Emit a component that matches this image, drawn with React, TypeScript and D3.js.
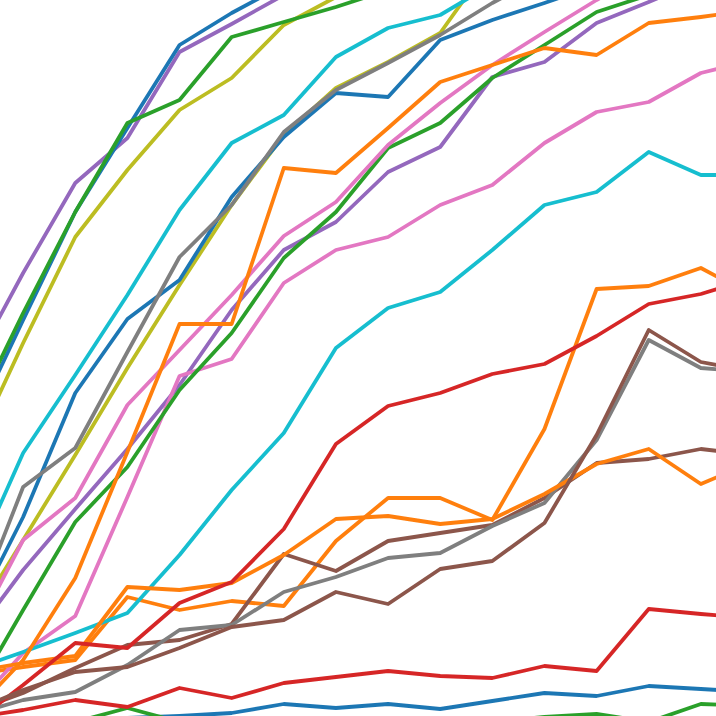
import { useEffect, useRef } from 'react'
import * as d3 from 'd3'

// x positions: sample index (the view is a zoomed crop, lines run off every edge)
const steps = d3.range(0, 16)

// tab10 cycle, first pass
const blueLow = [-14, -9, -6, -2, 0, 3, 12, 8, 12, 7, 15, 23, 20, 30, 27, 24]
const orangeL1 = [41, 49, 56, 119, 106, 115, 110, 175, 218, 218, 196, 287, 427, 430, 448, 420]
const greenLow = [-24, -14, -6, 8, -6, -16, -19, -19, -14, -9, -6, -1, 2, -6, 12, 10]
const redLow = [-2, 6, 16, 9, 28, 18, 33, 39, 45, 40, 38, 50, 45, 107, 102, 98]
const purpleMid = [76, 146, 207, 267, 331, 406, 466, 494, 544, 569, 639, 654, 693, 714, 736, 756]
const brown1 = [4, 23, 48, 71, 76, 92, 162, 145, 175, 183, 191, 218, 253, 257, 267, 261]
const pinkB = [6, 63, 100, 219, 340, 357, 433, 466, 479, 511, 531, 573, 604, 614, 643, 656]
const grayLow = [1, 16, 24, 51, 86, 91, 124, 139, 158, 163, 190, 213, 276, 376, 348, 344]
const oliveMid = [91, 176, 261, 348, 431, 511, 581, 628, 654, 683, 756, 786, 806, 821, 836, 851]
const cyanLow = [46, 64, 83, 103, 161, 226, 283, 368, 408, 424, 466, 511, 524, 564, 541, 541]
// second pass
const blueMid = [96, 199, 323, 397, 436, 519, 579, 623, 619, 676, 696, 713, 731, 746, 761, 776]
const orangeL2 = [44, 53, 60, 129, 126, 133, 161, 197, 200, 192, 197, 222, 252, 267, 232, 254]
const greenMid = [16, 106, 194, 249, 326, 383, 458, 504, 568, 593, 638, 671, 704, 721, 741, 761]
const redUp = [-9, 31, 73, 68, 113, 134, 187, 272, 310, 323, 342, 352, 380, 412, 422, 438]
const purpleTop = [346, 443, 533, 578, 664, 692, 721, 746, 766, 786, 801, 816, 826, 836, 846, 856]
const brown2 = [4, 26, 44, 49, 68, 89, 96, 124, 112, 147, 155, 193, 281, 386, 354, 344]
const pinkA = [76, 176, 218, 311, 366, 421, 480, 514, 571, 613, 651, 684, 716, 746, 766, 786]
const grayUp = [96, 229, 268, 364, 459, 511, 584, 626, 653, 681, 713, 741, 761, 776, 791, 806]
const oliveTop = [261, 373, 479, 546, 606, 638, 691, 719, 746, 771, 791, 806, 821, 831, 841, 851]
const cyanUp = [146, 263, 341, 421, 506, 573, 601, 659, 688, 701, 732, 761, 781, 796, 811, 826]
// third pass
const blueTop = [286, 396, 504, 588, 671, 703, 731, 756, 776, 796, 811, 826, 836, 846, 856, 866]
const orangeUp = [1, 56, 138, 264, 392, 392, 548, 543, 588, 634, 651, 668, 661, 693, 699, 706]
const greenTop = [296, 403, 504, 593, 616, 679, 694, 709, 726, 741, 756, 771, 781, 791, 801, 811]

const series = [
  blueLow, orangeL1, greenLow, redLow, purpleMid, brown1, pinkB, grayLow, oliveMid, cyanLow,
  blueMid, orangeL2, greenMid, redUp, purpleTop, brown2, pinkA, grayUp, oliveTop, cyanUp,
  blueTop, orangeUp, greenTop,
]

export default function App() {
  const ref = useRef<SVGSVGElement>(null)

  useEffect(() => {
    const svg = d3.select(ref.current!)
    svg.selectAll('*').remove()
    const W = 716, H = 716

    // visible window is a crop: index 0 sits just off the left edge
    const x = d3.scaleLinear().domain([0, 15]).range([-29, 753])
    const y = d3.scaleLinear().domain([0, 716]).range([H, 0])
    const color = d3.scaleOrdinal<number, string>().domain(d3.range(10)).range(d3.schemeCategory10)

    const defs = svg.append('defs')
    defs.append('clipPath').attr('id', 'crop')
      .append('rect').attr('width', W).attr('height', H)
    // the reference is an upscaled raster, edges are a bit soft
    defs.append('filter').attr('id', 'soft')
      .append('feGaussianBlur').attr('stdDeviation', 0.5)

    const g = svg.append('g').attr('clip-path', 'url(#crop)')
    g.append('rect').attr('width', W).attr('height', H).attr('fill', '#fff')

    const line = d3.line<number>().x((_, i) => x(steps[i])).y(v => y(v))

    const lines = g.append('g').attr('filter', 'url(#soft)')
    series.forEach((s, i) => {
      lines.append('path').datum(s)
        .attr('fill', 'none')
        .attr('stroke', color(i % 10))
        .attr('stroke-width', 3.8)
        .attr('stroke-linejoin', 'round')
        .attr('stroke-linecap', 'round')
        .attr('d', line)
    })
  }, [])

  return (
    <svg ref={ref} width={716} height={716}
      style={{ position: 'fixed', left: 0, top: 0, display: 'block' }} />
  )
}
